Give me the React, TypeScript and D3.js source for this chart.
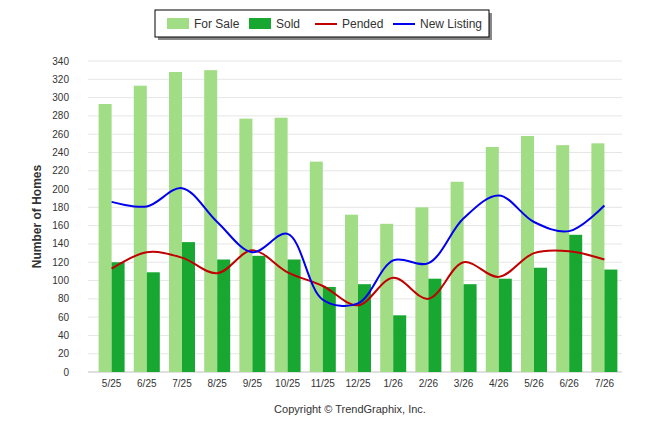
import React from "react";
import * as d3 from "d3";

const MONTHS = ["5/25","6/25","7/25","8/25","9/25","10/25","11/25","12/25","1/26","2/26","3/26","4/26","5/26","6/26","7/26"];
const FOR_SALE = [293,313,328,330,277,278,230,172,162,180,208,246,258,248,250];
const SOLD = [120,109,142,123,127,123,93,96,62,102,96,102,114,150,112];
const PENDED = [113,131,125,108,133,109,94,73,103,80,120,104,130,132,123];
const NEW_LISTING = [186,181,201,164,131,151,79,75,122,119,168,193,164,154,182];
const Y_TICKS = d3.range(0, 341, 20);

const W = 646, H = 434;
const L = 94, R = 622, T = 61, B = 372;

export default function App() {
  const x = d3.scaleBand().domain(MONTHS).range([L, R]);
  const y = d3.scaleLinear().domain([0, 340]).range([B, T]);
  const bw = 13;
  const cx = (m: string) => (x(m) as number) + x.bandwidth() / 2;
  const line = d3.line<number>().x((_, i) => cx(MONTHS[i])).y((d) => y(d)).curve(d3.curveCatmullRom.alpha(0.5));
  const font = "'Liberation Sans', Arial, sans-serif";
  return (
    <svg width={W} height={H} style={{ position: "absolute", left: 0, top: 0, fontFamily: font }}>
      <rect width={W} height={H} fill="#fff" />
      {Y_TICKS.map((t) => (
        <g key={t}>
          <line x1={L - 6} x2={R} y1={y(t)} y2={y(t)} stroke="#e6e6e6" />
          <text x={69} y={y(t) + 3.5} textAnchor="end" fontSize={10} fill="#333">{t}</text>
        </g>
      ))}
      <line x1={L - 6} x2={R} y1={B} y2={B} stroke="#ccc" />
      {MONTHS.map((m, i) => (
        <g key={m}>
          <rect x={cx(m) - bw} y={y(FOR_SALE[i])} width={bw} height={B - y(FOR_SALE[i])} fill="#a1dd85" />
          <rect x={cx(m)} y={y(SOLD[i])} width={bw} height={B - y(SOLD[i])} fill="#18a832" />
          <text x={cx(m)} y={B + 15} textAnchor="middle" fontSize={10} fill="#333">{m}</text>
        </g>
      ))}
      <path d={line(PENDED) || ""} fill="none" stroke="#c00000" strokeWidth={2} />
      <path d={line(NEW_LISTING) || ""} fill="none" stroke="#0000ee" strokeWidth={2} />
      <text transform={`translate(41,${(T + B) / 2}) rotate(-90)`} textAnchor="middle" fontSize={12} fontWeight="bold" fill="#333">Number of Homes</text>
      <text x={350} y={413} textAnchor="middle" fontSize={11} fill="#333">Copyright © TrendGraphix, Inc.</text>
      <g>
        <rect x={158} y={13} width={334} height={27} fill="#888" />
        <rect x={155} y={10} width={334} height={27} fill="#fff" stroke="#000" />
        <rect x={167} y={18} width={22} height={11} fill="#a1dd85" />
        <text x={194} y={28} fontSize={12} fill="#333">For Sale</text>
        <rect x={249} y={18} width={22} height={11} fill="#18a832" />
        <text x={276} y={28} fontSize={12} fill="#333">Sold</text>
        <line x1={315} x2={337} y1={24} y2={24} stroke="#c00000" strokeWidth={2} />
        <text x={342} y={28} fontSize={12} fill="#333">Pended</text>
        <line x1={393} x2={415} y1={24} y2={24} stroke="#0000ee" strokeWidth={2} />
        <text x={420} y={28} fontSize={12} fill="#333">New Listing</text>
      </g>
    </svg>
  );
}
